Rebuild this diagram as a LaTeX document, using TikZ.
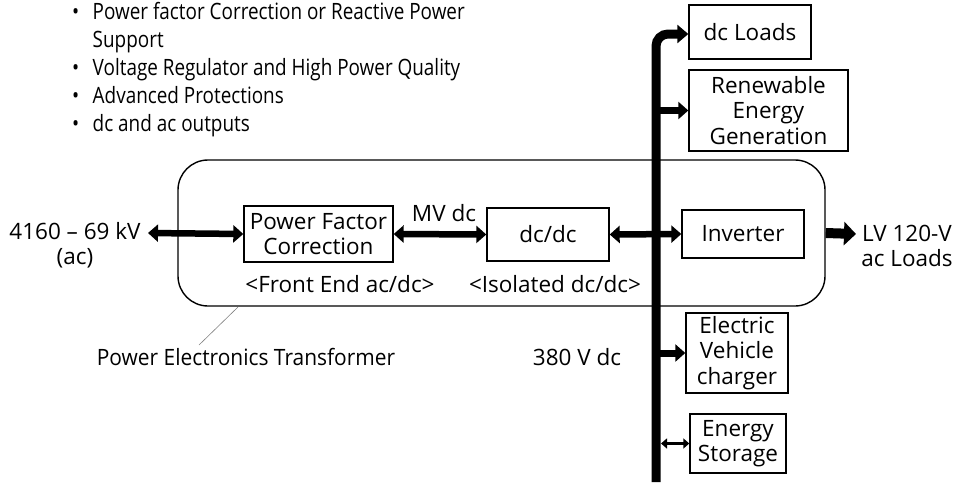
\documentclass[tikz,border=0pt]{standalone}
\usepackage{fontspec}
\setmainfont{Open Sans}
\usetikzlibrary{arrows.meta}
\begin{document}
\begin{tikzpicture}[x=1pt,y=-1pt,
  txt/.style={font=\fontsize{22.5}{25.5}\selectfont, inner sep=0pt, align=center},
  blk/.style={draw, line width=1.4pt, txt},
  dbl/.style={line width=6.5pt, {Triangle[length=10pt 0 0,width=17pt 0 0]}-{Triangle[length=10pt 0 0,width=17pt 0 0]}},
  sgl/.style={line width=7pt, -{Triangle[length=10pt 0 0,width=17pt 0 0]}},
  outarr/.style={line width=10pt, -{Triangle[length=12pt 0 0,width=23pt 0 0]}},
  busline/.style={line width=9pt}]
\useasboundingbox (0,0) rectangle (960,482);
% bullets
\node[font=\fontsize{22.5}{28}\selectfont, inner sep=0pt, anchor=north west, align=left] (bul) at (72,0) {%
\scalebox{0.84}[1]{\begin{tabular}{@{}l@{\hspace{16pt}}l@{}}
\textbullet & Power factor Correction or Reactive Power\\
 & Support\\
\textbullet & Voltage Regulator and High Power Quality\\
\textbullet & Advanced Protections\\
\textbullet & dc and ac outputs
\end{tabular}}};
% container
\node[draw, line width=1.4pt, rounded corners=30pt, minimum width=647pt, minimum height=146pt, inner sep=0pt] (pet) at (501.5,233) {};
% boxes
\node[blk, minimum width=149pt, minimum height=56pt] (pfc) at (318.5,234) {Power Factor\\Correction};
\node[blk, minimum width=122pt, minimum height=53pt] (dcdc) at (548,234.5) {dc/dc};
\node[blk, minimum width=122pt, minimum height=48pt] (inv) at (743,234) {Inverter};
\node[blk, minimum width=122pt, minimum height=54pt] (dcl) at (750,32) {dc Loads};
\node[blk, minimum width=159pt, minimum height=81pt] (ren) at (768.5,110.5) {Renewable\\Energy\\Generation};
\node[blk, minimum width=102pt, minimum height=80pt] (ev) at (737,353) {Electric\\Vehicle\\charger};
\node[blk, minimum width=96pt, minimum height=59pt] (sto) at (738,443.5) {Energy\\Storage};
% labels
\node[txt] (inlab) at (75,245) {4160 -- 69 kV\\(ac)};
\node[txt] (lvlab) at (907,246) {LV 120-V\\ac Loads};
\node[txt] (mvdc) at (444,213) {MV dc};
\node[txt] (fe) at (340,284) {<Front End ac/dc>};
\node[txt] (iso) at (555,284) {<Isolated dc/dc>};
\node[txt] (petlab) at (246,357) {\scalebox{0.93}[1]{Power Electronics Transformer}};
\node[txt] (v380) at (577,357) {380 V dc};
% coordinates
\coordinate (inL) at (148,233);
\coordinate (lvL) at (856,234);
\coordinate (busb) at (656,482);
\coordinate (leadA) at (238,307);
\coordinate (leadB) at (199,345);
% connectors
\draw[gray, line width=0.6pt] (leadA) -- (leadB);
\draw[dbl] (inL) -- (pfc.west);
\draw[dbl] (pfc.east) -- (dcdc.west);
\draw[dbl] (dcdc.east) -- (inv.west);
\draw[outarr] (pet.east) -- (lvL);
\draw[busline, rounded corners=12pt, -{Triangle[length=11pt 0 0,width=18pt 0 0]}] (busb) |- ([yshift=-2pt]dcl.west);
\draw[sgl] (busb |- ren.west) -- (ren.west);
\draw[sgl] (busb |- ev.west) -- (ev.west);
\draw[line width=2.4pt, {Triangle[length=6pt 0 0,width=10pt 0 0]}-{Triangle[length=6pt 0 0,width=10pt 0 0]}] ([xshift=5pt]busb |- sto.west) -- (sto.west);
\end{tikzpicture}
\end{document}
